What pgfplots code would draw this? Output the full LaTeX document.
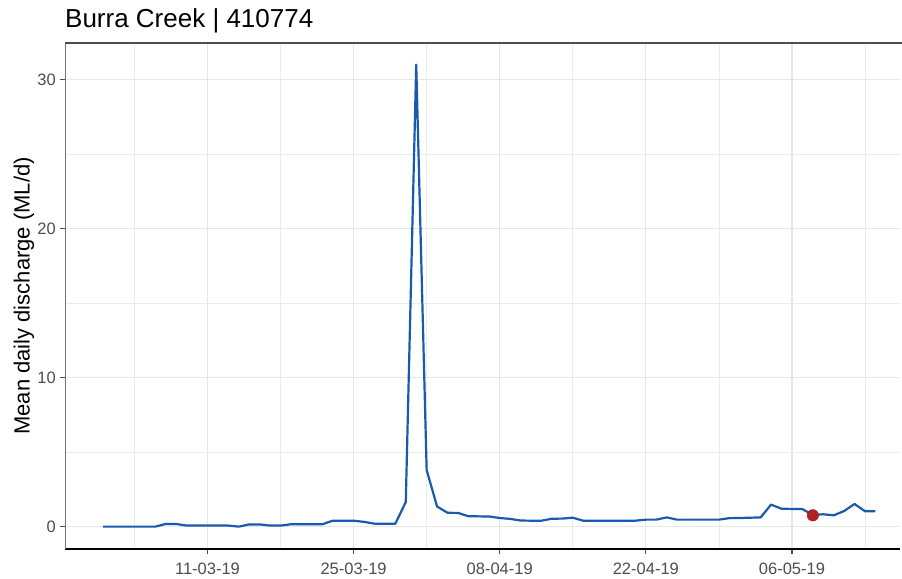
\documentclass[border=0pt]{standalone}
\usepackage{pgfplots}
\pgfplotsset{compat=1.18}
\usepackage{fontspec}
\setmainfont{Liberation Sans}
\definecolor{flowblue}{RGB}{25,90,175}
\definecolor{ptred}{RGB}{178,34,34}
\definecolor{gridc}{RGB}{230,230,230}
\definecolor{tickc}{RGB}{77,77,77}
\pgfplotstableread{
d v
0 0.0
1 0.0
2 0.0
3 0.0
4 0.0
5 0.0
6 0.18
7 0.18
8 0.07
9 0.07
10 0.07
11 0.07
12 0.07
13 0.0
14 0.15
15 0.15
16 0.07
17 0.07
18 0.16
19 0.16
20 0.16
21 0.16
22 0.4
23 0.4
24 0.4
25 0.32
26 0.2
27 0.2
28 0.2
29 1.65
30 31.0
31 3.8
32 1.35
33 0.93
34 0.92
35 0.7
36 0.69
37 0.68
38 0.58
39 0.52
40 0.41
41 0.4
42 0.4
43 0.53
44 0.54
45 0.6
46 0.4
47 0.4
48 0.4
49 0.4
50 0.4
51 0.4
52 0.47
53 0.47
54 0.62
55 0.47
56 0.47
57 0.47
58 0.47
59 0.47
60 0.57
61 0.58
62 0.6
63 0.62
64 1.48
65 1.2
66 1.19
67 1.18
68 0.78
69 0.83
70 0.76
71 1.05
72 1.52
73 1.03
74 1.03
}\flow
\pgfplotstableread{
d v
68 0.76
}\point
\begin{document}
\begin{tikzpicture}
\path[use as bounding box] (0,0) rectangle (902bp,579bp);
\begin{axis}[
  at={(65bp,30bp)}, anchor=south west,
  scale only axis, width=835bp, height=506bp,
  xmin=-3.65, xmax=76.35, ymin=-1.5, ymax=32.45,
  axis lines=left, axis line style={-},
  x axis line style={black, line width=1.6bp},
  y axis line style={color=black!55, line width=1bp},
  xtick={10,24,38,52,66},
  xticklabels={11-03-19,25-03-19,08-04-19,22-04-19,06-05-19},
  minor xtick={3,17,31,45,59,73},
  ytick={0,10,20,30},
  minor ytick={5,15,25},
  grid=both,
  major grid style={gridc, line width=1.3bp},
  minor grid style={gridc!80!white, line width=0.7bp},
  tick align=outside,
  major tick length=5bp, minor tick length=0pt,
  every tick/.style={tickc, line width=1.1bp},
  tick label style={font=\fontsize{16.5bp}{18bp}\selectfont, text=tickc},
  /pgf/number format/assume math mode=true,
  xticklabel style={inner sep=0pt, anchor=north, yshift=-9bp},
  yticklabel style={inner sep=0pt, anchor=east, xshift=-4bp},
  ylabel={Mean daily discharge (ML/d)},
  ylabel style={font=\fontsize{22bp}{24bp}\selectfont, at={(axis description cs:0,0.5)}, anchor=center, yshift=41bp},
  title={Burra Creek | 410774},
  title style={font=\fontsize{26bp}{28bp}\selectfont, at={(axis description cs:0,1)}, anchor=base west, inner sep=0pt, yshift=10bp},
  clip=false,
]
\draw[black!70, line width=1.2bp] (rel axis cs:0,1) -- (rel axis cs:1.02,1);
\addplot[flowblue, line width=2.2bp, line join=round] table[x=d,y=v]{\flow};
\addplot[only marks, mark=*, mark size=5.8bp, ptred, mark options={draw=ptred, fill=ptred}] table[x=d,y=v]{\point};
\end{axis}
\end{tikzpicture}
\end{document}
